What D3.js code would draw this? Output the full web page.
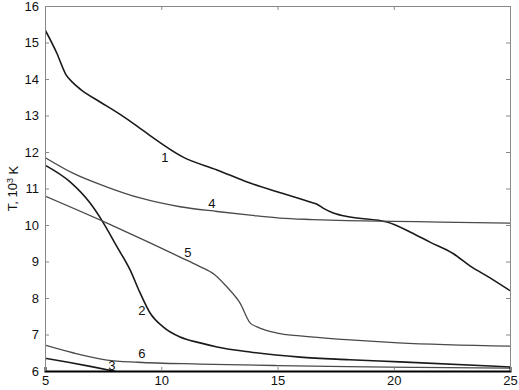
<!DOCTYPE html>
<html lang="en">
<head>
<meta charset="UTF-8">
<title>T vs x curves</title>
<script src="https://d3js.org/d3.v7.min.js"></script>
<style>
    body { margin: 0; background: #fff; }
    .lbl { font: 13px Arial, "Liberation Sans", sans-serif; fill: #111; }
</style>
</head>
<body>
<div id="chart"></div>
<script>
    // data
    var xTicks = [5, 10, 15, 20, 25];
    var yTicks = [6, 7, 8, 9, 10, 11, 12, 13, 14, 15, 16];

    var c1x = [5, 5.5, 5.9, 6.2, 6.6, 7.37, 8.23, 8.96, 9.52, 10.94, 12.4, 13.82, 15.2, 16.4, 16.7, 17.0, 17.4, 18.12, 19.71, 20.7, 21.56, 22.55, 23.28, 24.14, 25];
    var c1y = [15.35, 14.72, 14.12, 13.9, 13.68, 13.37, 13.03, 12.71, 12.45, 11.86, 11.51, 11.15, 10.87, 10.63, 10.57, 10.45, 10.33, 10.22, 10.08, 9.81, 9.53, 9.22, 8.88, 8.55, 8.2];

    var c2x = [5, 6.08, 6.94, 7.49, 8.1, 8.66, 9.09, 9.52, 10.08, 10.81, 11.67, 12.4, 13.82, 15.97, 18.1, 20.27, 25];
    var c2y = [11.64, 11.18, 10.60, 10.08, 9.40, 8.77, 8.14, 7.59, 7.21, 6.93, 6.77, 6.66, 6.52, 6.38, 6.31, 6.25, 6.11];

    var c3x = [5, 6, 7, 8.1];
    var c3y = [6.35, 6.24, 6.12, 5.98];

    var c4x = [5, 6.2, 7.67, 9.09, 10.81, 12.4, 13.82, 15.1, 16.5, 18, 20, 22, 25];
    var c4y = [11.85, 11.42, 11.04, 10.74, 10.5, 10.37, 10.27, 10.19, 10.15, 10.12, 10.1, 10.08, 10.05];

    var c5x = [5, 7.67, 9.52, 10.81, 11.6, 12.3, 12.83, 13.39, 13.82, 14.12, 14.98, 15.97, 18.12, 20.2, 25];
    var c5y = [10.79, 10.05, 9.51, 9.12, 8.88, 8.64, 8.30, 7.86, 7.32, 7.21, 7.04, 6.96, 6.85, 6.77, 6.68];

    var c6x = [5, 6.2, 7.67, 9, 11.67, 15, 18, 21, 25];
    var c6y = [6.71, 6.50, 6.30, 6.24, 6.19, 6.15, 6.12, 6.10, 6.08];

    var labelText = ["1", "2", "3", "4", "5", "6"];
    var labelX = [10.16, 9.17, 7.88, 12.18, 11.15, 9.17];
    var labelY = [11.86, 7.67, 6.14, 10.6, 9.26, 6.49];

    var width = 519, height = 390;
    var margin = { top: 6, right: 9, bottom: 19, left: 45 };
    var w = width - margin.left - margin.right,
        h = height - margin.top - margin.bottom;

    var x = d3.scaleLinear().domain([5, 25]).range([0, w]);
    var y = d3.scaleLinear().domain([6, 16]).range([h, 0]);

    var svg = d3.select("#chart").append("svg")
        .attr("width", width)
        .attr("height", height)
      .append("g")
        .attr("transform", "translate(" + margin.left + "," + margin.top + ")");

    svg.append("clipPath").attr("id", "clip")
      .append("rect").attr("width", w).attr("height", h);

    var line = d3.line()
        .x(function(d) { return x(d[0]); })
        .y(function(d) { return y(d[1]); })
        .curve(d3.curveMonotoneX);

    var series = [
        { xs: c1x, ys: c1y, dark: true },
        { xs: c2x, ys: c2y, dark: true },
        { xs: c3x, ys: c3y, dark: true },
        { xs: c4x, ys: c4y, dark: false },
        { xs: c5x, ys: c5y, dark: false },
        { xs: c6x, ys: c6y, dark: false }
    ];

    var plot = svg.append("g").attr("clip-path", "url(#clip)");

    series.forEach(function(s) {
        plot.append("path")
            .datum(d3.zip(s.xs, s.ys))
            .attr("fill", "none")
            .attr("stroke", s.dark ? "#1a1a1a" : "#4a4a4a")
            .attr("stroke-width", s.dark ? 1.6 : 1.3)
            .attr("d", line);
    });

    plot.selectAll("text.lbl")
        .data(labelText)
        .enter().append("text")
        .attr("class", "lbl")
        .attr("text-anchor", "middle")
        .attr("dy", "0.35em")
        .attr("x", function(d, i) { return x(labelX[i]); })
        .attr("y", function(d, i) { return y(labelY[i]); })
        .text(function(d) { return d; });

    // box axes, ticks pointing inward
    var tk = 4;
    var tickFont = "13px Arial, 'Liberation Sans', sans-serif";
    svg.append("g")
        .call(d3.axisTop(x).tickValues(xTicks).tickSize(-tk).tickFormat(""))
        .call(function(g) { g.selectAll("line,path").attr("stroke", "#888"); });
    svg.append("g")
        .attr("transform", "translate(" + w + ",0)")
        .call(d3.axisRight(y).tickValues(yTicks).tickSize(-tk).tickFormat(""))
        .call(function(g) { g.selectAll("line,path").attr("stroke", "#888"); });
    svg.append("g")
        .call(d3.axisLeft(y).tickValues(yTicks).tickSize(-tk).tickPadding(6).tickFormat(d3.format("d")))
        .call(function(g) {
            g.selectAll("line,path").attr("stroke", "#888");
            g.selectAll("text").style("font", tickFont).attr("fill", "#111");
        });
    svg.append("g")
        .attr("transform", "translate(0," + h + ")")
        .call(d3.axisBottom(x).tickValues(xTicks).tickSize(-tk).tickPadding(5).tickFormat(d3.format("d")))
        .call(function(g) {
            g.select("path").attr("stroke", "#000").attr("stroke-width", 2);
            g.selectAll("line").attr("stroke", "#888");
            g.selectAll("text").style("font", tickFont).attr("fill", "#111");
        });

    var yl = svg.append("text")
        .attr("transform", "translate(" + (12 - margin.left) + "," + (h / 2) + ") rotate(-90)")
        .attr("text-anchor", "middle")
        .attr("dy", "0.35em")
        .style("font", "13px Arial, 'Liberation Sans', sans-serif")
        .attr("fill", "#111");
    yl.append("tspan").text("T, 10");
    yl.append("tspan").attr("dy", "-0.45em").style("font-size", "9px").text("3");
    yl.append("tspan").attr("dy", "0.45em").text(" K");
</script>
</body>
</html>
